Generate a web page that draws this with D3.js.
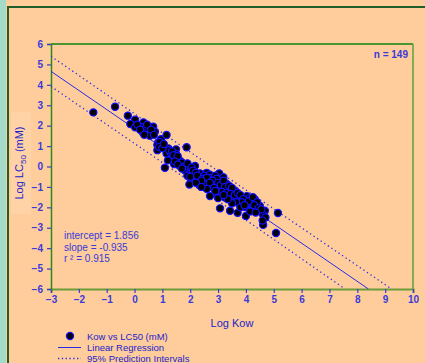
<!DOCTYPE html>
<html>
<head>
<meta charset="utf-8">
<script src="https://cdn.jsdelivr.net/npm/d3@7"></script>
<style>
  html, body { margin: 0; padding: 0; background: #fecd9b; }
  svg { display: block; font-family: Arial, "Liberation Sans", sans-serif; }
</style>
</head>
<body>
<svg id="chart" width="425" height="363"></svg>
<script>
// Log Kow vs Log LC50 (mM)
const points = [
  [-1.48, 2.65], [-0.70, 2.93], [-0.24, 2.49], [0.02, 2.29], [-0.15, 2.08],
  [0.02, 1.92], [0.32, 2.16], [0.26, 1.92], [0.41, 1.87], [0.30, 1.66],
  [0.67, 1.95], [0.55, 1.51], [0.73, 1.70], [0.95, 1.34], [1.15, 1.54],
  [0.85, 1.18], [0.82, 1.05], [0.82, 0.80], [1.21, 0.89], [1.49, 0.84],
  [1.87, 0.94], [1.15, 0.64], [1.30, 0.67], [1.49, 0.61], [1.51, 0.40],
  [1.63, 0.28], [1.42, 0.12], [1.09, -0.06], [1.75, 0.12], [1.87, 0.07],
  [1.63, 0.02], [1.97, -0.09], [2.17, 0.03], [1.81, -0.18], [1.99, -0.34],
  [2.02, -0.63], [1.97, -0.88], [2.35, -0.34], [2.59, -0.31], [2.41, -0.53],
  [2.32, -0.91], [2.65, -0.67], [2.83, -0.53], [3.04, -0.34], [2.71, -1.00],
  [2.57, -0.75], [2.89, -0.83], [3.07, -0.70], [3.19, -0.53], [3.31, -0.86],
  [3.01, -1.00], [3.13, -1.12], [3.37, -1.12], [3.61, -1.19], [2.71, -1.45],
  [2.97, -1.40], [3.25, -1.52], [3.55, -1.61], [3.76, -1.52], [4.03, -1.45],
  [4.00, -1.73], [4.12, -1.56], [4.32, -1.61], [4.21, -1.81], [3.97, -1.98],
  [4.50, -1.93], [4.68, -2.17], [4.62, -2.38], [3.07, -2.05], [3.43, -2.17],
  [3.70, -2.27], [4.00, -2.42], [4.62, -2.86], [5.15, -2.28], [5.08, -3.26],
  [0.10, 2.05], [0.45, 2.05], [0.20, 1.80], [0.60, 1.80], [0.35, 1.55],
  [0.90, 1.20], [0.88, 0.95], [1.00, 0.90], [1.25, 0.80], [1.35, 0.75],
  [1.40, 0.55], [1.55, 0.50], [1.20, 0.30], [1.45, 0.25], [1.70, 0.20],
  [1.55, 0.10], [1.80, 0.00], [1.90, 0.15], [2.05, -0.05], [1.70, -0.10],
  [2.10, -0.20], [2.20, -0.30], [2.25, -0.45], [1.90, -0.45], [2.00, -0.50],
  [2.50, -0.45], [2.45, -0.60], [2.70, -0.40], [2.75, -0.55], [2.60, -0.55],
  [2.90, -0.45], [2.95, -0.60], [2.80, -0.70], [2.50, -0.85], [2.70, -0.80],
  [2.40, -0.70], [3.00, -0.80], [3.10, -0.90], [3.20, -0.70], [3.25, -1.00],
  [3.40, -0.95], [3.50, -1.05], [2.85, -1.05], [3.15, -1.25], [3.30, -1.30],
  [3.45, -1.35], [3.60, -1.40], [3.70, -1.30], [3.80, -1.40], [3.90, -1.60],
  [3.85, -1.75], [4.10, -1.70], [4.25, -1.50], [4.40, -1.75], [4.30, -1.90],
  [4.45, -2.05], [4.55, -2.10], [4.70, -2.50], [4.60, -2.65], [3.65, -1.75],
  [3.50, -1.80], [3.35, -1.60], [3.00, -1.55], [3.20, -1.40], [2.90, -1.20],
  [2.60, -1.10], [2.20, -0.80], [2.40, -1.00], [3.80, -2.00], [4.15, -2.20],
  [3.95, -1.90], [4.35, -2.25], [0.70, 1.55], [1.05, 1.10]
];

// fitted line and 95% prediction band, end points
const regression = [[-3, 4.661], [8.4, -6.0]];
const upperBand = [[-3, 5.40], [2.5, 0.24], [9.23, -6.0]];
const lowerBand = [[-3, 3.92], [2.5, -1.20], [7.56, -6.0]];

const xTicks = d3.range(-3, 11);
const yTicks = d3.range(-6, 7);
const statsText = ["intercept = 1.856", "slope = -0.935", "r \u00b2 = 0.915"];
const legendLabels = ["Kow vs LC50 (mM)", "Linear Regression", "95% Prediction Intervals"];

const blue = "#3a3ad8";
const lineBlue = "#2a2ae8";

const svg = d3.select("#chart");

// frame: teal strip on the left, dark green edge of the panel
svg.append("rect").attr("x", 0).attr("y", 0).attr("width", 6).attr("height", 363).attr("fill", "#a3dbc8");
svg.append("line").attr("x1", 8).attr("x2", 425).attr("y1", 7).attr("y2", 7)
  .attr("stroke", "#1f5e2a").attr("stroke-width", 2);
svg.append("line").attr("x1", 8).attr("x2", 8).attr("y1", 6).attr("y2", 363)
  .attr("stroke", "#1f5e2a").attr("stroke-width", 2);

// slightly lighter patch behind the y title
svg.append("rect").attr("x", 11).attr("y", 112).attr("width", 20).attr("height", 102)
  .attr("fill", "#ffd3a6");

const plot = { left: 51, right: 413, top: 44, bottom: 289 };

const x = d3.scaleLinear().domain([-3, 10]).range([plot.left, plot.right]);
const y = d3.scaleLinear().domain([-6, 6]).range([plot.bottom, plot.top]);

svg.append("clipPath").attr("id", "clip")
  .append("rect")
  .attr("x", plot.left).attr("y", plot.top)
  .attr("width", plot.right - plot.left).attr("height", plot.bottom - plot.top);

// top and right border
svg.append("line").attr("x1", plot.left).attr("x2", plot.right)
  .attr("y1", plot.top).attr("y2", plot.top).attr("stroke", "#128012").attr("stroke-width", 1.5);
svg.append("line").attr("x1", plot.right).attr("x2", plot.right)
  .attr("y1", plot.top).attr("y2", plot.bottom).attr("stroke", "#5aa03c").attr("stroke-width", 1.5);

// Add X axis
const xAxis = svg.append("g")
  .attr("transform", `translate(0, ${plot.bottom})`)
  .call(d3.axisBottom(x).tickValues(xTicks).tickSize(4).tickPadding(3).tickFormat(d3.format("d")));

// Add Y axis
const yAxis = svg.append("g")
  .attr("transform", `translate(${plot.left}, 0)`)
  .call(d3.axisLeft(y).tickValues(yTicks).tickSize(4).tickPadding(4).tickFormat(d3.format("d")));

xAxis.select(".domain").attr("stroke", "#6a9c3c").attr("stroke-width", 2);
yAxis.select(".domain").attr("stroke", "#2f8a1e").attr("stroke-width", 1.5);
for (const axis of [xAxis, yAxis]) {
  axis.selectAll(".tick line").attr("stroke", blue).attr("stroke-width", 1.2);
  axis.selectAll(".tick text")
    .attr("fill", blue)
    .style("font-size", "10px")
    .style("font-weight", "bold");
}

const lineGen = d3.line().x((d) => x(d[0])).y((d) => y(d[1]));

const lines = svg.append("g").attr("clip-path", "url(#clip)");

for (const band of [upperBand, lowerBand]) {
  lines.append("path")
    .attr("d", lineGen(band))
    .attr("fill", "none")
    .attr("stroke", lineBlue)
    .attr("stroke-width", 1.3)
    .attr("stroke-dasharray", "1.3,3");
}

lines.append("path")
  .attr("d", lineGen(regression))
  .attr("fill", "none")
  .attr("stroke", lineBlue)
  .attr("stroke-width", 1);

// Show the points
svg.append("g")
  .selectAll("circle")
  .data(points)
  .join("circle")
  .attr("cx", (d) => x(d[0]))
  .attr("cy", (d) => y(d[1]))
  .attr("r", 3.6)
  .attr("fill", "#000")
  .attr("stroke", "#1010ff")
  .attr("stroke-width", 1.2);

// stats box
svg.append("g")
  .selectAll("text")
  .data(statsText)
  .join("text")
  .attr("x", 64)
  .attr("y", (_d, i) => 239 + i * 11.5)
  .attr("fill", blue)
  .style("font-size", "10px")
  .text((d) => d);

svg.append("text")
  .attr("x", 408)
  .attr("y", 58)
  .attr("text-anchor", "end")
  .attr("fill", blue)
  .style("font-size", "10px")
  .style("font-weight", "bold")
  .text("n = 149");

// axis titles
svg.append("text")
  .attr("x", (plot.left + plot.right) / 2)
  .attr("y", 327)
  .attr("text-anchor", "middle")
  .attr("fill", "#2222cc")
  .style("font-size", "11px")
  .text("Log Kow");

const yTitle = svg.append("text")
  .attr("transform", "translate(23, 163) rotate(-90)")
  .attr("text-anchor", "middle")
  .attr("fill", "#2222cc")
  .style("font-size", "11px");
yTitle.append("tspan").text("Log LC");
yTitle.append("tspan").attr("dy", 3).style("font-size", "8px").text("50");
yTitle.append("tspan").attr("dy", -3).text(" (mM)");

// legend
const legend = svg.append("g").attr("fill", "#2222cc").style("font-size", "9.5px");
legend.append("circle").attr("cx", 70).attr("cy", 336).attr("r", 3.6)
  .attr("fill", "#000").attr("stroke", "#1010ff").attr("stroke-width", 1.2);
legend.append("line").attr("x1", 58).attr("x2", 81).attr("y1", 347.5).attr("y2", 347.5)
  .attr("stroke", lineBlue).attr("stroke-width", 1);
legend.append("line").attr("x1", 58).attr("x2", 81).attr("y1", 358.5).attr("y2", 358.5)
  .attr("stroke", lineBlue).attr("stroke-width", 1.3).attr("stroke-dasharray", "1.3,2.5");
legend.selectAll("text")
  .data(legendLabels)
  .join("text")
  .attr("x", 87)
  .attr("y", (_d, i) => 340 + i * 11)
  .text((d) => d);
</script>
</body>
</html>
